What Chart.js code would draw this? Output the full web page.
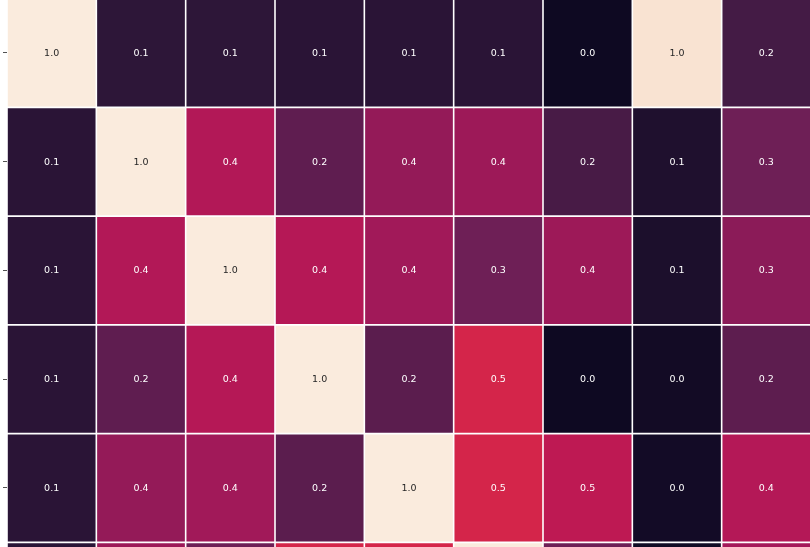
<!DOCTYPE html>
<html>
<head>
<meta charset="utf-8">
<script src="https://cdn.jsdelivr.net/npm/chart.js@4/dist/chart.umd.min.js"></script>
<style>
html,body{margin:0;padding:0;background:#fff;overflow:hidden;width:810px;height:547px}
#c{position:absolute;left:0;top:0}
</style>
</head>
<body>
<canvas id="c" width="811" height="547"></canvas>
<script>
// Column (variable) names — not shown in the cropped picture
const columns = ['V1','V2','V3','V4','V5','V6','V7','V8','V9'];
// Row names (only the first rows are visible)
const rowLabels = ['V1','V2','V3','V4','V5','V6'];

// Correlation values, one array per row
const row0 = [1.00, 0.12, 0.12, 0.11, 0.11, 0.11, 0.03, 0.98, 0.18];
const row1 = [0.11, 1.00, 0.44, 0.245, 0.37, 0.39, 0.19, 0.08, 0.28];
const row2 = [0.11, 0.44, 1.00, 0.447, 0.40, 0.28, 0.39, 0.07, 0.35];
const row3 = [0.11, 0.245, 0.447, 1.00, 0.235, 0.53, 0.03, 0.045, 0.24];
const row4 = [0.11, 0.37, 0.40, 0.235, 1.00, 0.53, 0.47, 0.046, 0.445];
const row5 = [0.11, 0.39, 0.28, 0.53, 0.53, 1.00, 0.28, 0.04, 0.41];
const rows = [row0, row1, row2, row3, row4, row5];

// colour scale range
const vmin = 0, vmax = 1;

// "rocket" colormap stops
const cmapPos = [0, 1/7, 2/7, 3/7, 0.5, 4/7, 5/7, 6/7, 1];
const cmapRGB = [[3,5,26],[53,25,62],[112,31,87],[173,23,89],[203,27,79],[225,51,66],[243,118,81],[246,180,143],[250,235,221]];

function cmap(v){
  let t = (v - vmin) / (vmax - vmin);
  t = Math.max(0, Math.min(1, t));
  let i = 0;
  while (i < cmapPos.length - 2 && t > cmapPos[i+1]) i++;
  const f = (t - cmapPos[i]) / (cmapPos[i+1] - cmapPos[i]);
  const a = cmapRGB[i], b = cmapRGB[i+1];
  return a.map((x,k)=>Math.round(x + (b[k]-x)*f));
}
function rgbStr(c){ return 'rgb(' + c.join(',') + ')'; }
function luminance(c){
  const s = c.map(x=>{ x/=255; return x<=0.03928 ? x/12.92 : Math.pow((x+0.055)/1.055,2.4); });
  return 0.2126*s[0] + 0.7152*s[1] + 0.0722*s[2];
}

const datasets = rows.map((vals, r) => ({
  label: rowLabels[r],
  data: columns.map((c, j) => ({ x: c, y: [r, r + 1], v: vals[j] })),
  backgroundColor: ctx => rgbStr(cmap(ctx.raw ? ctx.raw.v : 0)),
  borderColor: '#ffffff',
  borderWidth: 0.8,
  borderSkipped: false,
  inflateAmount: 0,
  grouped: false,
  barPercentage: 1,
  categoryPercentage: 1
}));

const annotate = {
  id: 'annotate',
  afterDatasetsDraw(chart){
    const ctx = chart.ctx;
    ctx.save();
    ctx.font = '9.5px "DejaVu Sans", sans-serif';
    ctx.textAlign = 'center';
    ctx.textBaseline = 'middle';
    chart.data.datasets.forEach((ds, di) => {
      const meta = chart.getDatasetMeta(di);
      meta.data.forEach((el, j) => {
        const v = ds.data[j].v;
        const col = cmap(v);
        ctx.fillStyle = luminance(col) > 0.408 ? '#262626' : '#ffffff';
        ctx.fillText(v.toFixed(1), el.x, (el.y + el.base) / 2 + 0.5);
      });
    });
    ctx.restore();
  }
};

const rowPx = 108.75;
const yMin = 1.4 / rowPx;

new Chart(document.getElementById('c'), {
  type: 'bar',
  data: { labels: columns, datasets },
  options: {
    responsive: false,
    animation: false,
    layout: { padding: 0 },
    plugins: { legend: { display: false }, tooltip: { enabled: false } },
    scales: {
      x: { type: 'category', display: false, offset: true },
      y: {
        type: 'linear',
        reverse: true,
        min: yMin,
        max: yMin + 547 / rowPx,
        afterBuildTicks: s => { s.ticks = rowLabels.map((_, i) => ({ value: i + 0.5 })); },
        afterFit: s => { s.width = 7; s.paddingTop = 0; s.paddingBottom = 0; },
        ticks: { display: false },
        grid: { drawOnChartArea: false, drawTicks: true, tickLength: 4, color: '#262626', lineWidth: 0.8 },
        border: { display: false }
      }
    }
  },
  plugins: [annotate]
});
</script>
</body>
</html>
